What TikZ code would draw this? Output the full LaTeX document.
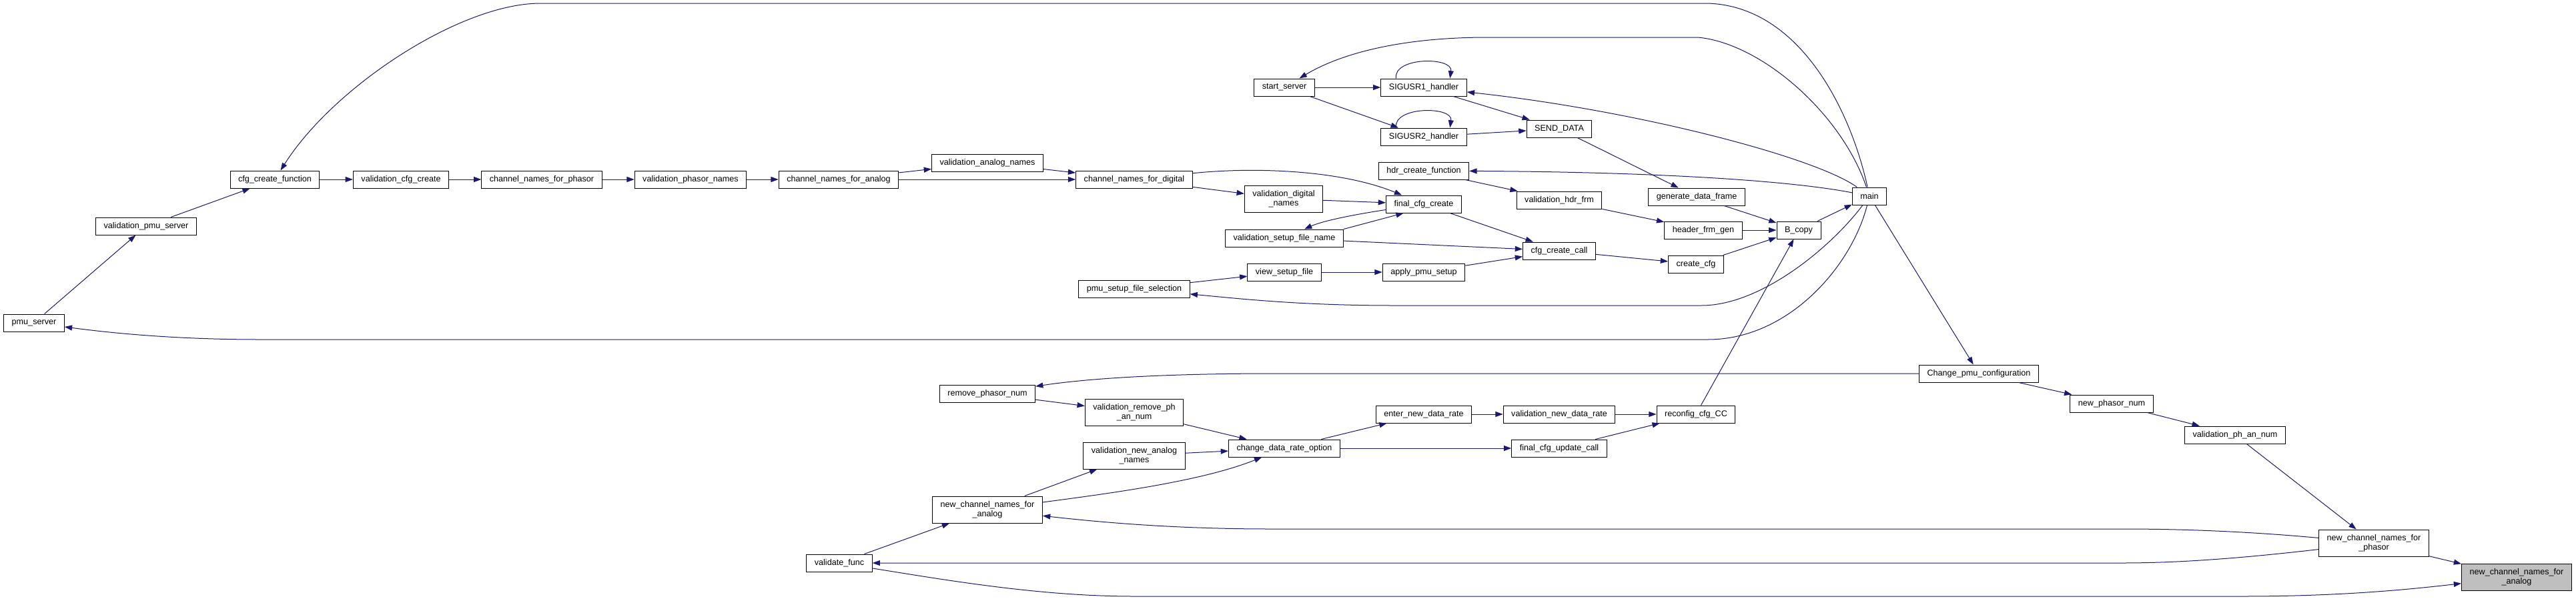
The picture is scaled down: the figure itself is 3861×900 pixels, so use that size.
\documentclass[tikz,border=0pt]{standalone}
\usepackage{fontspec}
\setmainfont{Liberation Sans}
\usetikzlibrary{
  arrows.meta % For arrow tips
}

\definecolor{edgeblue}{HTML}{191970}
\definecolor{hitgray}{HTML}{BFBFBF}

\begin{document}
\begin{tikzpicture}[
      x=0.75pt, y=-0.75pt, % one unit = one pixel, y downwards
      >={Triangle[length=8.5pt,width=6pt]}, % Default arrow tip
      fn/.style={draw=black, fill=white, line width=0.75pt, inner xsep=9pt,
        inner ysep=2pt, minimum height=19.5pt, align=center,
        font=\fontsize{9.45}{10.5}\selectfont}, % function box
      fntwo/.style={fn, minimum height=30pt}, % box with two lines
      fnhit/.style={fntwo, fill=hitgray}, % the function of this graph
      calls/.style={->, draw=edgeblue, line width=0.75pt}, % call edge
    ]

    \useasboundingbox (0,0) rectangle (3861,900);

    % left chain
    \node[fn] (pmusrv) at (51,484) {pmu\_server};
    \node[fn] (valpmusrv) at (219,339) {validation\_pmu\_server};
    \node[fn] (cfgfunc) at (412,269) {cfg\_create\_function};
    \node[fn] (valcfg) at (601,269) {validation\_cfg\_create};
    \node[fn] (cnphasor) at (812,269) {channel\_names\_for\_phasor};
    \node[fn] (valphnames) at (1035,269) {validation\_phasor\_names};
    \node[fn] (cnanalog) at (1257,269) {channel\_names\_for\_analog};
    \node[fn] (valannames) at (1480,244) {validation\_analog\_names};
    \node[fn] (cndigital) at (1700,269) {channel\_names\_for\_digital};
    \node[fntwo] (valdignames) at (1924,298) {validation\_digital\\\_names};
    \node[fn] (fincfg) at (2134,306) {final\_cfg\_create};
    \node[fn] (valsetup) at (1925,357) {validation\_setup\_file\_name};
    \node[fn] (setupsel) at (1700,433) {pmu\_setup\_file\_selection};
    \node[fn] (viewsetup) at (1925,408) {view\_setup\_file};
    \node[fn] (applysetup) at (2134,408) {apply\_pmu\_setup};
    \node[fn] (cfgcall) at (2337,376) {cfg\_create\_call};
    \node[fn] (createcfg) at (2542,396) {create\_cfg};

    % server and header
    \node[fn] (startsrv) at (1925,131) {start\_server};
    \node[fn] (sig1) at (2134,131) {SIGUSR1\_handler};
    \node[fn] (sig2) at (2134,205) {SIGUSR2\_handler};
    \node[fn] (senddata) at (2337,193) {SEND\_DATA};
    \node[fn] (hdrfunc) at (2134,256) {hdr\_create\_function};
    \node[fn] (valhdr) at (2337,300) {validation\_hdr\_frm};
    \node[fn] (gendata) at (2543,295) {generate\_data\_frame};
    \node[fn] (hdrgen) at (2553,345) {header\_frm\_gen};
    \node[fn] (bcopy) at (2696,345) {B\_copy};
    \node[fn] (main) at (2802,294) {main};

    % reconfiguration
    \node[fn] (chgcfg) at (2966,560) {Change\_pmu\_configuration};
    \node[fn] (newphnum) at (3165,605) {new\_phasor\_num};
    \node[fn] (valphan) at (3350,652) {validation\_ph\_an\_num};
    \node[fntwo] (ncnphasor) at (3558,814) {new\_channel\_names\_for\\\_phasor};
    \node[fnhit] (ncnanalog) at (3772,865) {new\_channel\_names\_for\\\_analog};
    \node[fn] (rmph) at (1480,590) {remove\_phasor\_num};
    \node[fntwo] (valrmph) at (1700,618) {validation\_remove\_ph\\\_an\_num};
    \node[fntwo] (valnewan) at (1700,683) {validation\_new\_analog\\\_names};
    \node[fntwo] (ncnanalogl) at (1480,764) {new\_channel\_names\_for\\\_analog};
    \node[fn] (valfunc) at (1258,844) {validate\_func};
    \node[fn] (chrate) at (1925,672) {change\_data\_rate\_option};
    \node[fn] (enterrate) at (2134,621) {enter\_new\_data\_rate};
    \node[fn] (valrate) at (2337,621) {validation\_new\_data\_rate};
    \node[fn] (finupd) at (2337,672) {final\_cfg\_update\_call};
    \node[fn] (reconfig) at (2542,621) {reconfig\_cfg\_CC};

    % long routes out of main
    \draw[calls] (main) .. controls (2775,170) and (2700,10) .. (2560,5) -- (810,5)
      .. controls (690,5) and (500,130) .. (cfgfunc);
    \draw[calls] (main) .. controls (2760,170) and (2640,65) .. (2545,56) -- (2230,56)
      .. controls (2100,56) and (2010,80) .. (startsrv);
    \draw[calls] (main) .. controls (2720,235) and (2450,165) .. (sig1);
    \draw[calls] (main) .. controls (2690,272) and (2500,258) .. (hdrfunc);
    \draw[calls] (main) .. controls (2745,370) and (2640,458) .. (2550,458) -- (2090,458)
      .. controls (1950,458) and (1860,448) .. (setupsel);
    \draw[calls] (main) .. controls (2775,400) and (2680,509) .. (2560,509) -- (390,509)
      .. controls (250,509) and (150,497) .. (pmusrv);
    \draw[calls] (main) -- (chgcfg);

    % left chain
    \draw[calls] (pmusrv) -- (valpmusrv);
    \draw[calls] (valpmusrv) -- (cfgfunc);
    \draw[calls] (cfgfunc) -- (valcfg);
    \draw[calls] (valcfg) -- (cnphasor);
    \draw[calls] (cnphasor) -- (valphnames);
    \draw[calls] (valphnames) -- (cnanalog);
    \draw[calls] (cnanalog) -- (valannames);
    \draw[calls] (cnanalog) -- (cndigital);
    \draw[calls] (valannames) -- (cndigital);
    \draw[calls] (cndigital) -- (valdignames);
    \draw[calls] (cndigital) .. controls (1880,250) and (2010,255) .. (fincfg);
    \draw[calls] (valdignames) -- (fincfg);
    \draw[calls] (fincfg) .. controls (2040,320) and (1985,330) .. (valsetup);
    \draw[calls] (valsetup.north east) -- (fincfg.-156);
    \draw[calls] (fincfg) -- (cfgcall);
    \draw[calls] (valsetup) -- (cfgcall);
    \draw[calls] (applysetup) -- (cfgcall);
    \draw[calls] (cfgcall) -- (createcfg);
    \draw[calls] (setupsel) -- (viewsetup);
    \draw[calls] (viewsetup) -- (applysetup);

    % server and header
    \draw[calls] (startsrv) -- (sig1);
    \draw[calls] (startsrv) -- (sig2);
    \draw[calls] (sig1.162) .. controls (2088,85) and (2178,85) .. (sig1.19);
    \draw[calls] (sig2.162) .. controls (2088,159) and (2178,159) .. (sig2.19);
    \draw[calls] (sig1) -- (senddata);
    \draw[calls] (sig2) -- (senddata);
    \draw[calls] (senddata) -- (gendata);
    \draw[calls] (hdrfunc) -- (valhdr);
    \draw[calls] (valhdr) -- (hdrgen);
    \draw[calls] (hdrgen) -- (bcopy);
    \draw[calls] (gendata) -- (bcopy);
    \draw[calls] (createcfg) -- (bcopy);
    \draw[calls] (reconfig) -- (bcopy);
    \draw[calls] (bcopy) -- (main);

    % reconfiguration
    \draw[calls] (chgcfg) -- (newphnum);
    \draw[calls] (newphnum) -- (valphan);
    \draw[calls] (valphan) -- (ncnphasor);
    \draw[calls] (ncnphasor) -- (ncnanalog);
    \draw[calls] (chgcfg) -- (1910,560) .. controls (1760,560) and (1640,566) .. (rmph);
    \draw[calls] (ncnphasor) .. controls (3350,795) and (3250,793) .. (3180,793) -- (1905,793)
      .. controls (1760,793) and (1650,783) .. (ncnanalogl);
    \draw[calls] (ncnphasor) .. controls (3350,838) and (3260,844) .. (3180,844) -- (valfunc);
    \draw[calls] (valfunc) .. controls (1420,870) and (1560,894) .. (1700,894) -- (3360,894)
      .. controls (3500,894) and (3600,885) .. (ncnanalog);
    \draw[calls] (valfunc) -- (ncnanalogl);
    \draw[calls] (ncnanalogl) -- (valnewan);
    \draw[calls] (ncnanalogl) .. controls (1660,740) and (1800,722) .. (chrate);
    \draw[calls] (rmph) -- (valrmph);
    \draw[calls] (valrmph) -- (chrate);
    \draw[calls] (valnewan) -- (chrate);
    \draw[calls] (chrate) -- (enterrate);
    \draw[calls] (chrate) -- (finupd);
    \draw[calls] (enterrate) -- (valrate);
    \draw[calls] (valrate) -- (reconfig);
    \draw[calls] (finupd) -- (reconfig);

  \end{tikzpicture}
\end{document}
